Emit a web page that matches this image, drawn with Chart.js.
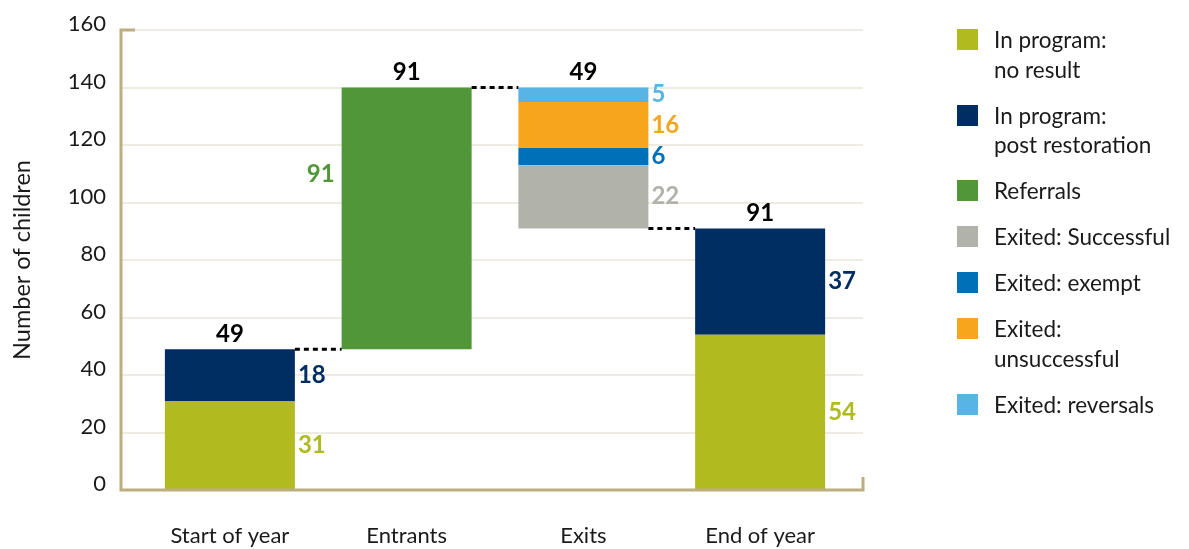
<!DOCTYPE html>
<html lang="en">
<head>
<meta charset="UTF-8">
<title>Children in program</title>
<script src="https://cdn.jsdelivr.net/npm/chart.js"></script>
<style>
    * { margin: 0; padding: 0; box-sizing: border-box; }
    body { width: 1189px; height: 549px; background: #fff; position: relative; overflow: hidden; font-family: Lato, sans-serif; }
    #wrap { position: absolute; left: 0; top: 0; width: 1189px; height: 549px; }
    #legend { position: absolute; left: 957px; top: 25px; list-style: none; }
    #legend li { display: flex; align-items: flex-start; margin-bottom: 16.5px; font-size: 22.5px; line-height: 29.5px; color: #1a1a1a; }
    #legend .box { width: 21px; height: 21px; margin-top: 4px; margin-right: 16px; flex: none; }
</style>
</head>
<body>
<div id="wrap"><canvas id="myChart" width="1189" height="549"></canvas></div>
<ul id="legend"></ul>
<script>
    var categories = ['Start of year', 'Entrants', 'Exits', 'End of year'];
    var seriesNames = [['In program:', 'no result'], ['In program:', 'post restoration'], ['Referrals'],
        ['Exited: Successful'], ['Exited: exempt'], ['Exited:', 'unsuccessful'], ['Exited: reversals']];
    var seriesColors = ['#b1bb1f', '#002d62', '#52963a', '#b1b3aa', '#0070b9', '#f7a51d', '#57b4e5'];

    // value of each series per column (null = not in that column)
    var noResult      = [31, null, null, 54];
    var postRestore   = [18, null, null, 37];
    var referrals     = [null, 91, null, null];
    var exitedSuccess = [null, null, 22, null];
    var exitedExempt  = [null, null, 6, null];
    var exitedUnsucc  = [null, null, 16, null];
    var exitedRevers  = [null, null, 5, null];
    var seriesValues = [noResult, postRestore, referrals, exitedSuccess, exitedExempt, exitedUnsucc, exitedRevers];

    var columnBase = [0, 49, 91, 0];        // where each column starts
    var columnTotals = [49, 91, 49, 91];    // bold numbers above columns
    var connectorLevels = [49, 140, 91];    // dotted lines between columns
    var yTicks = [0, 20, 40, 60, 80, 100, 120, 140, 160];

    // build floating segments
    var running = columnBase.slice();
    var datasets = seriesValues.map(function (vals, i) {
        var pts = [];
        vals.forEach(function (v, c) {
            if (v === null) return;
            pts.push({ x: c, y: [running[c], running[c] + v] });
            running[c] += v;
        });
        return {
            label: seriesNames[i].join(' '),
            data: pts,
            backgroundColor: seriesColors[i],
            borderWidth: 0,
            grouped: false,
            categoryPercentage: 1,
            barPercentage: 0.7355
        };
    });

    // legend
    var legend = document.getElementById('legend');
    seriesNames.forEach(function (name, i) {
        var li = document.createElement('li');
        li.innerHTML = '<span class="box" style="background:' + seriesColors[i] + '"></span><span>' + name.join('<br>') + '</span>';
        legend.appendChild(li);
    });

    var extras = {
        id: 'extras',
        afterDatasetsDraw: function (chart) {
            var ctx = chart.ctx, ca = chart.chartArea, ys = chart.scales.y, xs = chart.scales.x;
            ctx.save();
            // axis frame
            ctx.strokeStyle = '#bcae80';
            ctx.lineWidth = 3;
            ctx.beginPath();
            ctx.moveTo(ca.left + 14, ca.top);
            ctx.lineTo(ca.left, ca.top);
            ctx.lineTo(ca.left, ca.bottom);
            ctx.lineTo(ca.right, ca.bottom);
            ctx.lineTo(ca.right, ca.bottom - 13);
            ctx.stroke();

            // segment labels
            ctx.font = 'bold 24px Lato';
            ctx.textBaseline = 'middle';
            var colTop = [];
            chart.data.datasets.forEach(function (ds, i) {
                var meta = chart.getDatasetMeta(i);
                meta.data.forEach(function (el, j) {
                    var r = ds.data[j].y, v = r[1] - r[0];
                    var c = ds.data[j].x;
                    colTop[c] = Math.min(colTop[c] === undefined ? Infinity : colTop[c], el.y);
                    ctx.fillStyle = seriesColors[i];
                    if (i === 2) {
                        ctx.textAlign = 'right';
                        ctx.fillText(v, el.x - el.width / 2 - 7, ys.getPixelForValue(r[0] + v * 0.67));
                    } else {
                        ctx.textAlign = 'left';
                        ctx.fillText(v, el.x + el.width / 2 + 3, ys.getPixelForValue((r[0] + r[1]) / 2));
                    }
                });
            });

            // totals
            ctx.fillStyle = '#000';
            ctx.textAlign = 'center';
            columnTotals.forEach(function (t, c) {
                ctx.fillText(t, xs.getPixelForValue(c), colTop[c] - 15);
            });

            // dotted connectors
            ctx.strokeStyle = '#000';
            ctx.lineWidth = 3;
            ctx.setLineDash([5, 4]);
            connectorLevels.forEach(function (lv, c) {
                var y = ys.getPixelForValue(lv);
                ctx.beginPath();
                ctx.moveTo(xs.getPixelForValue(c) + 65, y);
                ctx.lineTo(xs.getPixelForValue(c + 1) - 65, y);
                ctx.stroke();
            });
            ctx.restore();
        }
    };

    var ctx = document.getElementById('myChart').getContext('2d');
    var myChart = new Chart(ctx, {
        type: 'bar',
        data: { datasets: datasets },
        options: {
            responsive: false,
            animation: false,
            layout: { padding: { top: 30, right: 326, left: 0, bottom: 0 } },
            plugins: { legend: { display: false }, tooltip: { enabled: false } },
            scales: {
                x: {
                    type: 'linear',
                    offset: false,
                    bounds: 'ticks',
                    min: -0.616,
                    max: 3.582,
                    afterBuildTicks: function (axis) {
                        axis.ticks = categories.map(function (c, i) { return { value: i }; });
                    },
                    afterFit: function (axis) { axis.height = 59; },
                    ticks: {
                        autoSkip: false,
                        maxRotation: 0,
                        padding: 25,
                        color: '#1a1a1a',
                        font: { family: 'Lato', size: 22 },
                        callback: function (v) { return categories[v]; }
                    },
                    grid: { display: false },
                    border: { display: false }
                },
                y: {
                    min: 0,
                    max: 160,
                    afterBuildTicks: function (axis) {
                        axis.ticks = yTicks.map(function (v) { return { value: v }; });
                    },
                    afterFit: function (axis) { axis.width = 121; },
                    ticks: {
                        padding: 15,
                        labelOffset: -6,
                        color: '#1a1a1a',
                        font: { family: 'Lato', size: 22 }
                    },
                    grid: {
                        drawTicks: false,
                        lineWidth: 2,
                        color: function (c) { return c.tick && c.tick.value === 0 ? 'rgba(0,0,0,0)' : '#eeebe3'; }
                    },
                    border: { display: false },
                    title: {
                        display: true,
                        text: 'Number of children',
                        color: '#1a1a1a',
                        font: { family: 'Lato', size: 23.5 },
                        padding: { top: 8, bottom: 0 }
                    }
                }
            }
        },
        plugins: [extras]
    });
</script>
</body>
</html>
